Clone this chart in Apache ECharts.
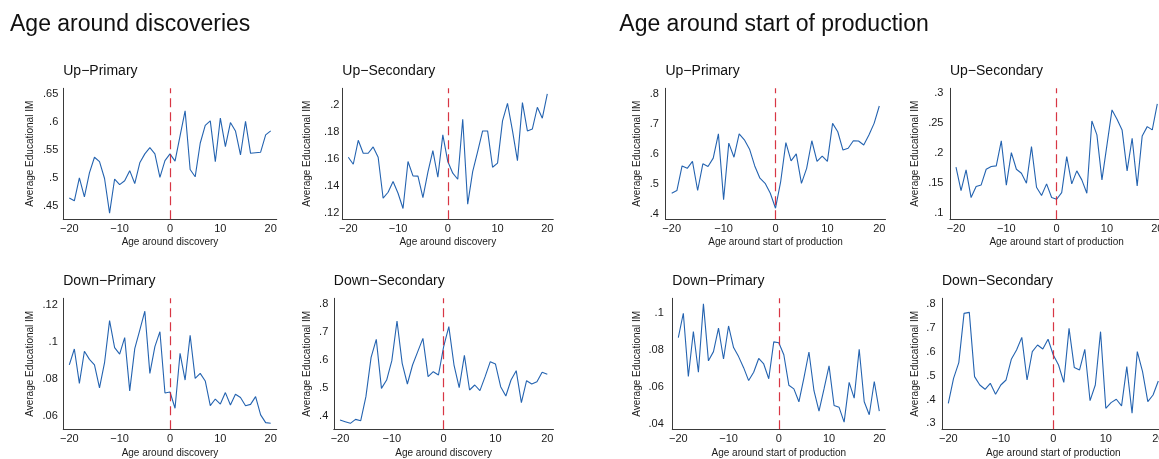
<!DOCTYPE html>
<html>
<head>
<meta charset="utf-8">
<script src="https://cdn.jsdelivr.net/npm/echarts@6/dist/echarts.min.js"></script>
<style>
html,body{margin:0;padding:0;background:#fff;}
#chart{width:1159px;height:459px;}
</style>
</head>
<body>
<div id="chart"></div>
<script>
// ---- data ----
const ages = [-20,-19,-18,-17,-16,-15,-14,-13,-12,-11,-10,-9,-8,-7,-6,-5,-4,-3,-2,-1,0,1,2,3,4,5,6,7,8,9,10,11,12,13,14,15,16,17,18,19,20];

const upPrimDisc = [.464,.459,.500,.466,.509,.537,.529,.499,.437,.498,.488,.495,.513,.490,.527,.543,.554,.543,.501,.531,.543,.530,.575,.620,.515,.502,.562,.594,.602,.529,.607,.556,.599,.584,.541,.601,.544,.545,.546,.577,.584];
const upSecDisc = [.1614,.1562,.1739,.1643,.1643,.1690,.1614,.1311,.1355,.1434,.1348,.1235,.1582,.1476,.1474,.1316,.1503,.1663,.1466,.1779,.1582,.1496,.1451,.1894,.1267,.1508,.1656,.1808,.1808,.1540,.1570,.1882,.2012,.1810,.1589,.2017,.1808,.1823,.1983,.1902,.2081];
const downPrimDisc = [.0875,.0961,.0775,.0949,.0905,.0875,.0750,.0887,.1115,.0969,.0933,.1023,.0734,.0963,.1064,.1166,.0829,.0974,.1055,.0723,.0728,.0640,.0938,.0793,.1036,.0802,.0829,.0788,.0654,.0690,.0663,.0725,.0658,.0716,.0698,.0654,.0661,.0703,.0604,.0562,.0559];
const downSecDisc = [.3844,.3784,.3725,.3868,.3820,.4683,.6096,.6743,.4982,.5281,.5976,.7401,.5880,.5138,.5820,.6300,.6778,.5401,.5581,.5461,.6479,.7198,.5820,.5006,.6168,.4922,.5102,.4898,.5401,.5940,.5856,.5042,.4707,.5281,.5617,.4467,.5257,.5138,.5222,.5557,.5485];

const upPrimProd = [.469,.478,.560,.552,.575,.478,.567,.558,.586,.667,.447,.636,.589,.667,.647,.616,.560,.519,.502,.469,.419,.508,.638,.577,.600,.502,.552,.644,.575,.593,.575,.702,.674,.613,.619,.644,.643,.630,.663,.702,.760];
const upSecProd = [.1767,.1378,.1722,.1261,.1444,.1472,.1733,.1778,.1789,.2206,.1467,.2011,.1733,.1667,.1500,.2111,.1433,.1294,.1489,.1261,.1233,.1344,.1944,.1489,.1706,.1556,.1333,.2539,.2306,.1556,.2139,.2722,.2567,.2389,.1706,.2250,.1456,.2289,.2444,.2389,.2822];
const downPrimProd = [.0868,.1000,.0657,.0901,.0680,.1051,.0742,.0792,.0919,.0752,.0931,.0814,.0765,.0705,.0635,.0680,.0755,.0725,.0645,.0845,.0840,.0775,.0610,.0590,.0520,.0650,.0790,.0580,.0470,.0590,.0715,.0500,.0490,.0410,.0625,.0540,.0805,.0520,.0450,.0630,.0470];
const downSecProd = [.384,.489,.555,.762,.766,.496,.461,.443,.468,.422,.461,.482,.569,.608,.661,.482,.601,.629,.612,.653,.587,.545,.472,.699,.534,.524,.611,.395,.461,.685,.363,.387,.401,.373,.538,.342,.601,.517,.391,.419,.478];

// ---- tick labels ----
const xTicks = [-20,-10,0,10,20];
const yTicksUpPrimDisc = [.45,.5,.55,.6,.65];
const yTicksUpSecDisc = [.12,.14,.16,.18,.2];
const yTicksDownPrimDisc = [.06,.08,.1,.12];
const yTicksDownSecDisc = [.4,.5,.6,.7,.8];
const yTicksUpPrimProd = [.4,.5,.6,.7,.8];
const yTicksUpSecProd = [.1,.15,.2,.25,.3];
const yTicksDownPrimProd = [.04,.06,.08,.1];
const yTicksDownSecProd = [.3,.4,.5,.6,.7,.8];

// ---- text ----
const mainTitles = ['Age around discoveries', 'Age around start of production'];
const panelTitles = ['Up\u2212Primary','Up\u2212Secondary','Down\u2212Primary','Down\u2212Secondary'];
const xTitles = ['Age around discovery', 'Age around start of production'];
const yTitle = 'Average Educational IM';

// ---- layout (pixels) ----
const FONT = '"Liberation Sans", Arial, Helvetica, sans-serif';
const rows = [{top: 88.3, bottom: 219.2, titleY: 70.8}, {top: 298.3, bottom: 429.3, titleY: 280.8}];
const panels = [
  {data: upPrimDisc,   ticks: yTicksUpPrimDisc,   title: 0, graph: 0, row: 0, xa: 69.3,  xb: 270.7,  yMin: .4262, yMax: .6602, lm: 5,   yt: 30},
  {data: upSecDisc,    ticks: yTicksUpSecDisc,    title: 1, graph: 0, row: 0, xa: 348.3, xb: 547.3,  yMin: .1156, yMax: .2123, lm: 3,   yt: 307.3},
  {data: downPrimDisc, ticks: yTicksDownPrimDisc, title: 2, graph: 0, row: 1, xa: 69.3,  xb: 270.7,  yMin: .0526, yMax: .1236, lm: 5.5, yt: 30},
  {data: downSecDisc,  ticks: yTicksDownSecDisc,  title: 3, graph: 0, row: 1, xa: 340,   xb: 547.3,  yMin: .3511, yMax: .8216, lm: 5.5, yt: 307.3},
  {data: upPrimProd,   ticks: yTicksUpPrimProd,   title: 0, graph: 1, row: 0, xa: 671.7, xb: 879.3,  yMin: .3823, yMax: .8190, lm: 6.5, yt: 637.3},
  {data: upSecProd,    ticks: yTicksUpSecProd,    title: 1, graph: 1, row: 0, xa: 956,   xb: 1157.3, yMin: .0900, yMax: .3083, lm: 6.5, yt: 915.7},
  {data: downPrimProd, ticks: yTicksDownPrimProd, title: 2, graph: 1, row: 1, xa: 678.3, xb: 879.3,  yMin: .0371, yMax: .1081, lm: 8.5, yt: 637.3},
  {data: downSecProd,  ticks: yTicksDownSecProd,  title: 3, graph: 1, row: 1, xa: 948.3, xb: 1158.3, yMin: .2748, yMax: .8252, lm: 6.5, yt: 915.7}
];

const fmt = v => {
  let s = String(+v.toFixed(4));
  if (s.startsWith('-')) s = '\u2212' + s.slice(1);
  return s.replace(/^0\./, '.').replace(/^\u22120\./, '\u2212.');
};

const grids = [], xAxes = [], yAxes = [], series = [], graphics = [];
const TXT = '#1a1a1a';
const AX = '#3a3a3a';
const REF = {color: '#d42030', type: [9, 5], width: 1.2, opacity: 0.9};

mainTitles.forEach((t, i) => {
  graphics.push({type: 'text', x: i === 0 ? 10 : 619.3, y: 25,
    style: {text: t, font: '23px ' + FONT, fill: '#111', textAlign: 'left', textVerticalAlign: 'middle'}});
});

panels.forEach((p, i) => {
  const r = rows[p.row];
  const ppu = (p.xb - p.xa) / 40;
  const left = p.xa - 1.2 * ppu;
  const width = 42.4 * ppu;
  grids.push({left: left, top: r.top, width: width, height: r.bottom - r.top, containLabel: false, outerBoundsMode: 'none'});
  xAxes.push({
    type: 'value', gridIndex: i, min: -21.2, max: 21.2,
    axisLine: {show: true, onZero: false, lineStyle: {color: AX, width: 1}},
    axisTick: {show: false, customValues: xTicks},
    splitLine: {show: false},
    axisLabel: {customValues: xTicks, formatter: fmt, fontSize: 11, color: TXT, fontFamily: FONT, margin: 4.5},
    name: xTitles[p.graph], nameLocation: 'middle', nameGap: 18.5,
    nameTextStyle: {fontSize: 10, color: TXT, fontFamily: FONT}
  });
  yAxes.push({
    type: 'value', gridIndex: i, min: p.yMin, max: p.yMax,
    axisLine: {show: true, onZero: false, lineStyle: {color: AX, width: 1}},
    axisTick: {show: false, customValues: p.ticks},
    splitLine: {show: false},
    axisLabel: {customValues: p.ticks, formatter: fmt, fontSize: 11, color: TXT, fontFamily: FONT, margin: p.lm}
  });
  series.push({
    type: 'line', xAxisIndex: i, yAxisIndex: i,
    data: ages.map((a, k) => [a, p.data[k]]),
    showSymbol: false, symbol: 'none', animation: false, silent: true,
    lineStyle: {color: '#2463b0', width: 1.1},
    markLine: {
      silent: true, symbol: ['none', 'none'], animation: false,
      label: {show: false},
      lineStyle: REF,
      data: [{xAxis: 0, lineStyle: REF}]
    }
  });
  graphics.push({type: 'text', x: left, y: r.titleY,
    style: {text: panelTitles[p.title], font: '14px ' + FONT, fill: '#111', textAlign: 'left', textVerticalAlign: 'middle'}});
  graphics.push({type: 'text', x: p.yt, y: (r.top + r.bottom) / 2, rotation: Math.PI / 2,
    style: {text: yTitle, font: '10px ' + FONT, fill: TXT, textAlign: 'center', textVerticalAlign: 'middle'}});
});

const chart = echarts.init(document.getElementById('chart'), null, {renderer: 'canvas'});
chart.setOption({
  backgroundColor: '#fff',
  animation: false,
  grid: grids,
  xAxis: xAxes,
  yAxis: yAxes,
  series: series,
  graphic: graphics
});
</script>
</body>
</html>
